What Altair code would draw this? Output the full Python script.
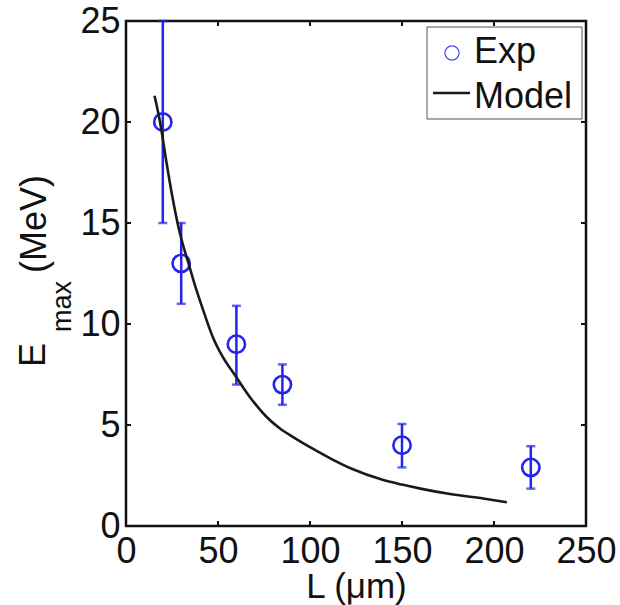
import altair as alt
import pandas as pd

# Experimental data
exp_L = [20, 30, 60, 85, 150, 220]
exp_E = [20, 13, 9, 7, 4, 2.9]
exp_lo = [15, 11, 7, 6, 2.9, 1.85]
exp_hi = [25, 15, 10.9, 8, 5.05, 3.95]

# Model curve
model_L = [15.5, 18.5, 22, 25, 29, 34.5, 37.2, 41.7, 47.1, 52.5, 59.8, 67.2, 76.3,
           83.5, 90, 101, 112, 123, 139, 150, 160, 177, 195, 207]
model_E = [21.3, 20.0, 18.0, 16.4, 14.6, 12.84, 12.0, 10.75, 9.37, 8.38, 7.39, 6.4, 5.41,
           4.84, 4.45, 3.85, 3.3, 2.82, 2.3, 2.05, 1.85, 1.57, 1.35, 1.18]

x_ticks = [0, 50, 100, 150, 200, 250]
y_ticks = [0, 5, 10, 15, 20, 25]

W, H = 460, 505
FONT = "Liberation Sans"
BLUE = "#2424ee"
INK = "#111111"

exp_df = pd.DataFrame({"L": exp_L, "E": exp_E, "lo": exp_lo, "hi": exp_hi})
model_df = pd.DataFrame({"L": model_L, "E": model_E})
xt_df = pd.DataFrame({"v": x_ticks})
yt_df = pd.DataFrame({"v": y_ticks})
dummy = pd.DataFrame({"a": [0]})

xscale = alt.Scale(domain=[0, 250], nice=False)
yscale = alt.Scale(domain=[0, 25], nice=False)

xaxis = alt.Axis(values=x_ticks, ticks=False, tickSize=0, domain=False, grid=False,
                 labelFlush=False, labelOverlap=False,
                 labelFontSize=36, labelFont=FONT, labelColor=INK, labelPadding=8,
                 title="L (μm)", titleFont=FONT, titleFontSize=35, titleFontWeight="normal",
                 titleColor=INK, titlePadding=0)
yaxis = alt.Axis(values=y_ticks, ticks=False, tickSize=0, domain=False, grid=False,
                 labelFlush=False, labelOverlap=False,
                 labelFontSize=36, labelFont=FONT, labelColor=INK, labelPadding=6,
                 title="")

base_x = alt.X("L:Q", scale=xscale, axis=xaxis)

errbars = alt.Chart(exp_df).mark_rule(color=BLUE, strokeWidth=2.5).encode(
    x=base_x, y=alt.Y("lo:Q", scale=yscale, axis=yaxis), y2="hi:Q")
cap_lo = alt.Chart(exp_df).mark_tick(color=BLUE, thickness=2.5, size=9, orient="horizontal").encode(
    x=alt.X("L:Q", scale=xscale), y=alt.Y("lo:Q", scale=yscale))
cap_hi = alt.Chart(exp_df).mark_tick(color=BLUE, thickness=2.5, size=9, orient="horizontal").encode(
    x=alt.X("L:Q", scale=xscale), y=alt.Y("hi:Q", scale=yscale))
points = alt.Chart(exp_df).mark_point(shape="circle", filled=False, color=BLUE, size=300,
                                      strokeWidth=2.6, opacity=1).encode(
    x=alt.X("L:Q", scale=xscale), y=alt.Y("E:Q", scale=yscale))
model = alt.Chart(model_df).mark_line(color="#1a1a1a", strokeWidth=2.6, interpolate="monotone").encode(
    x=alt.X("L:Q", scale=xscale), y=alt.Y("E:Q", scale=yscale))

# inward ticks
tick_style = dict(color=INK, strokeWidth=2)
xt_bot = alt.Chart(xt_df).mark_rule(**tick_style).encode(
    x=alt.X("v:Q", scale=xscale), y=alt.value(H), y2=alt.value(H - 5))
xt_top = alt.Chart(xt_df).mark_rule(**tick_style).encode(
    x=alt.X("v:Q", scale=xscale), y=alt.value(0), y2=alt.value(5))
yt_left = alt.Chart(yt_df).mark_rule(**tick_style).encode(
    y=alt.Y("v:Q", scale=yscale), x=alt.value(0), x2=alt.value(5))
yt_right = alt.Chart(yt_df).mark_rule(**tick_style).encode(
    y=alt.Y("v:Q", scale=yscale), x=alt.value(W), x2=alt.value(W - 5))

# y-axis title with subscript
ytitle_E = alt.Chart(dummy).mark_text(text="E", angle=270, align="left", baseline="alphabetic",
                                      font=FONT, fontSize=36, color=INK).encode(
    x=alt.value(-81), y=alt.value(346))
ytitle_max = alt.Chart(dummy).mark_text(text="max", angle=270, align="left", baseline="alphabetic",
                                        font=FONT, fontSize=27, color=INK).encode(
    x=alt.value(-55), y=alt.value(311))
ytitle_unit = alt.Chart(dummy).mark_text(text="(MeV)", angle=270, align="left", baseline="alphabetic",
                                         font=FONT, fontSize=36, color=INK).encode(
    x=alt.value(-80), y=alt.value(252))

# legend
leg_box = alt.Chart(dummy).mark_rect(fill="white", stroke="#555555", strokeWidth=1).encode(
    x=alt.value(301), x2=alt.value(456), y=alt.value(6), y2=alt.value(98))
leg_pt = alt.Chart(dummy).mark_point(shape="circle", filled=False, color="#4a4af0", size=200,
                                     strokeWidth=1.2, opacity=1).encode(
    x=alt.value(326), y=alt.value(32))
leg_line = alt.Chart(dummy).mark_rule(color="#1a1a1a", strokeWidth=2.5).encode(
    x=alt.value(307), x2=alt.value(344), y=alt.value(72))
leg_exp = alt.Chart(dummy).mark_text(text="Exp", align="left", baseline="alphabetic",
                                     font=FONT, fontSize=36, color=INK).encode(
    x=alt.value(348), y=alt.value(42))
leg_model = alt.Chart(dummy).mark_text(text="Model", align="left", baseline="alphabetic",
                                       font=FONT, fontSize=36, color=INK).encode(
    x=alt.value(348), y=alt.value(87))

chart = alt.layer(
    errbars, cap_lo, cap_hi, points, model,
    xt_bot, xt_top, yt_left, yt_right,
    ytitle_E, ytitle_max, ytitle_unit,
    leg_box, leg_pt, leg_line, leg_exp, leg_model,
).properties(
    width=W, height=H,
    autosize=alt.AutoSizeParams(type="none"),
    padding={"left": 126, "top": 21, "right": 34, "bottom": 79},
    background="white",
).configure_view(
    stroke=INK, strokeWidth=2.5
)

chart.save("out.html", embed_options={"renderer": "svg", "actions": False})
